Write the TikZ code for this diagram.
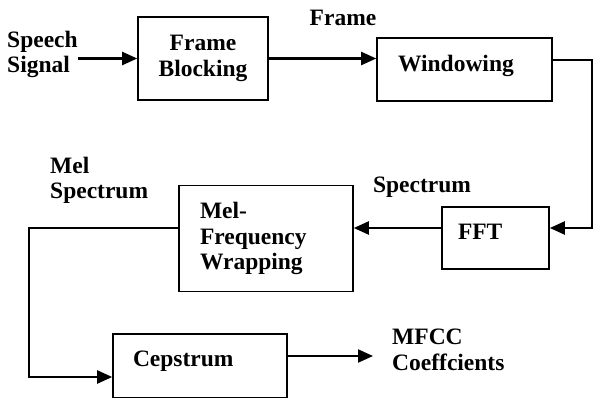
\documentclass[tikz,border=0pt]{standalone}
\usepackage{fontspec}
\setmainfont{Liberation Serif}
\usetikzlibrary{arrows.meta}
\begin{document}
\begin{tikzpicture}[x=1pt,y=-1pt,
  every node/.style={inner sep=0pt,font=\fontsize{23.5}{25.5}\selectfont\bfseries},
  blk/.style={draw,line width=1.6pt,rectangle},
  lbl/.style={align=left},
  arr/.style={line width=2.2pt,-{Triangle[length=15pt,width=13pt]}}]
\useasboundingbox[fill=white] (0,0) rectangle (593,398);
% boxes
\node[blk,minimum width=130pt,minimum height=83pt,align=center] (fb) at (203,58.5) {Frame\\Blocking};
\node[blk,minimum width=175pt,minimum height=63pt,text width=133pt,align=left,text depth=12pt] (win) at (464.5,69.5) {Windowing};
\node[blk,minimum width=107pt,minimum height=62pt,text width=75pt,align=left,text depth=12pt] (fft) at (495.5,238) {FFT};
\node[blk,minimum width=174pt,minimum height=106pt,text width=132pt,align=left] (mel) at (266,238.5) {Mel-\\Frequency\\Wrapping};
\node[blk,minimum width=174pt,minimum height=64pt,text width=134pt,align=left,text depth=14pt] (cep) at (200,366) {Cepstrum};
% labels
\node[lbl,anchor=west] (sig) at (7,54.5) {Speech\\Signal};
\node (frl) at (343,18) {Frame};
\node (spl) at (422,187) {Spectrum};
\node[lbl,anchor=west] (msl) at (50,180.5) {Mel\\Spectrum};
\node[lbl,anchor=west] (mfcc) at (392,350) {MFCC\\Coeffcients};
% coordinates
\coordinate (c1) at (592,60);
\coordinate (c2) at (592,228);
\coordinate (c3) at (29,228);
\coordinate (c4) at (29,377);
\coordinate (c5) at (373,356);
% connectors
\draw[arr] (fb.west -| sig.east) -- (fb.west);
\draw[arr] (fb.east) -- (fb.east -| win.west);
\draw[arr] (win.east |- c1) -- (c1) -- (c2) -- (c2 -| fft.east);
\draw[arr] (fft.west |- c2) -- (c2 -| mel.east);
\draw[arr] (mel.west |- c3) -- (c3) -- (c4) -- (c4 -| cep.west);
\draw[arr] (cep.east |- c5) -- (c5);
\end{tikzpicture}
\end{document}
